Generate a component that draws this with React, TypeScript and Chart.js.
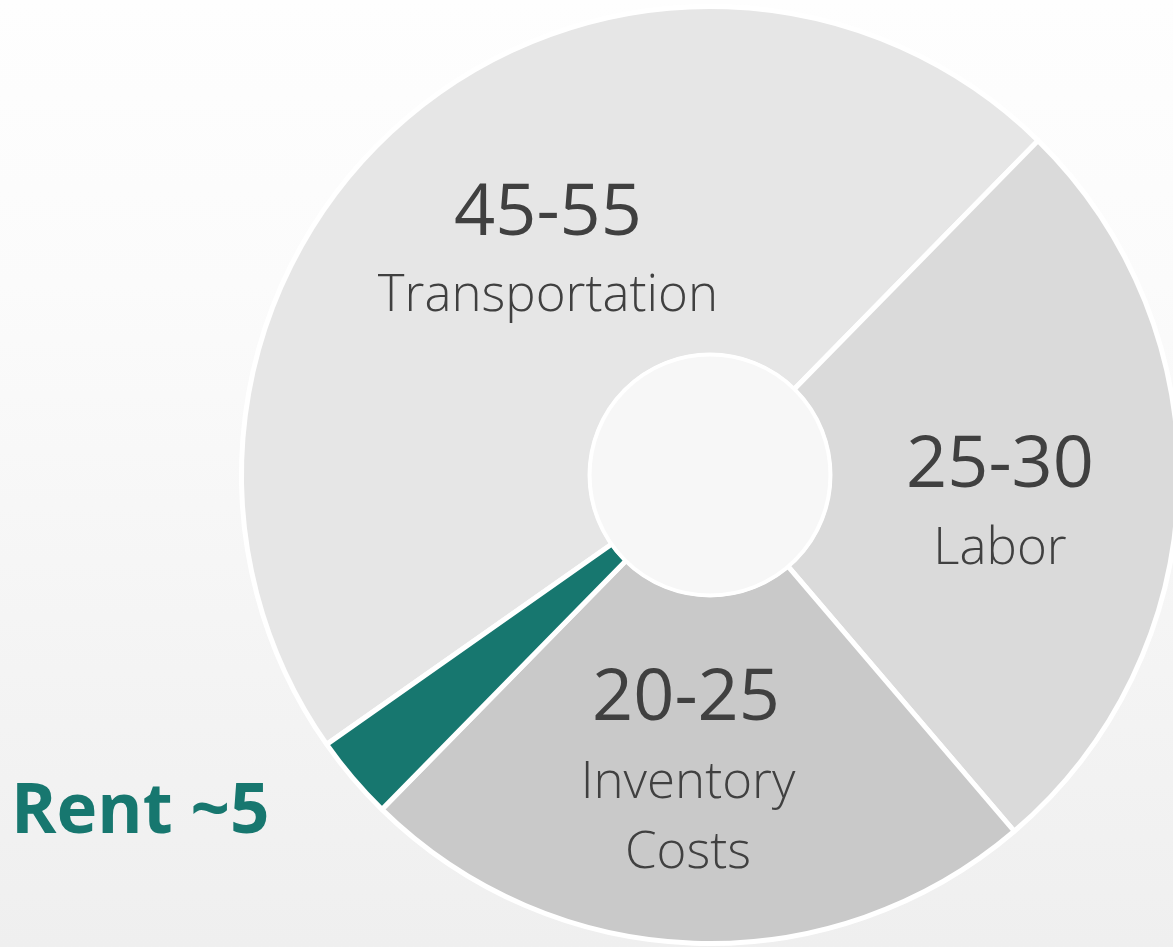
import React, { useEffect, useRef } from "react";
import { Chart, registerables } from "chart.js";

Chart.register(...registerables);

const categories = ["Transportation", "Labor", "Inventory Costs", "Rent"];
const shares = [47.1, 26.4, 23.6, 2.9];
const rangeLabels = ["45-55", "25-30", "20-25", "~5"];
const sliceColors = ["#e6e6e6", "#dadada", "#c9c9c9", "#17776f"];

const labelPlugin = {
  id: "labels",
  afterDraw(chart: any) {
    const ctx = chart.ctx;
    const meta = chart.getDatasetMeta(0);
    const arc = meta.data[0];
    const cx = arc.x;
    const cy = arc.y;
    const inner = arc.innerRadius;
    ctx.save();
    // center hole
    ctx.beginPath();
    ctx.arc(cx, cy, inner + 1, 0, Math.PI * 2);
    ctx.fillStyle = "#f7f7f7";
    ctx.fill();
    ctx.lineWidth = 4;
    ctx.strokeStyle = "#ffffff";
    ctx.stroke();

    ctx.fillStyle = "#404040";
    ctx.textAlign = "center";
    ctx.textBaseline = "alphabetic";
    const big = "400 72px 'Open Sans', 'Noto Sans', sans-serif";
    const small = "300 51px 'Open Sans', 'Noto Sans', sans-serif";
    // Transportation
    ctx.font = big;
    ctx.fillText(rangeLabels[0], 548, 235);
    ctx.font = small;
    ctx.fillText(categories[0], 548, 311);
    // Labor
    ctx.font = big;
    ctx.fillText(rangeLabels[1], 1000, 487);
    ctx.font = small;
    ctx.fillText(categories[1], 1000, 564);
    // Inventory
    ctx.font = big;
    ctx.fillText(rangeLabels[2], 686, 720);
    ctx.font = small;
    const parts = categories[2].split(" ");
    ctx.fillText(parts[0], 688, 798);
    ctx.fillText(parts[1], 688, 868);
    // Rent
    ctx.textAlign = "left";
    ctx.fillStyle = "#17776f";
    ctx.font = "700 69px 'Open Sans', 'Noto Sans', sans-serif";
    ctx.fillText(categories[3] + " " + rangeLabels[3], 11, 833);
    ctx.restore();
  },
};

export default function App() {
  const ref = useRef<HTMLCanvasElement>(null);
  useEffect(() => {
    document.body.style.margin = "0";
    const chart = new Chart(ref.current!, {
      type: "doughnut",
      data: {
        labels: categories,
        datasets: [
          {
            data: shares,
            backgroundColor: sliceColors,
            borderColor: "#ffffff",
            borderWidth: 5,
          },
        ],
      },
      options: {
        responsive: false,
        animation: false,
        rotation: -125.1,
        cutout: "25.5%",
        layout: { padding: { top: 4, bottom: 1, left: 0, right: 0 } },
        plugins: {
          legend: { display: false },
          tooltip: { enabled: false },
        },
      },
      plugins: [labelPlugin],
    });
    return () => chart.destroy();
  }, []);
  return (
    <div
      style={{
        position: "fixed",
        left: 0,
        top: 0,
        width: 1173,
        height: 947,
        overflow: "hidden",
        background: "linear-gradient(to bottom, #fefefe 0%, #fbfbfb 30%, #efefef 100%)",
      }}
    >
      <canvas ref={ref} width={1420} height={947} style={{ display: "block", width: 1420, height: 947 }} />
    </div>
  );
}
